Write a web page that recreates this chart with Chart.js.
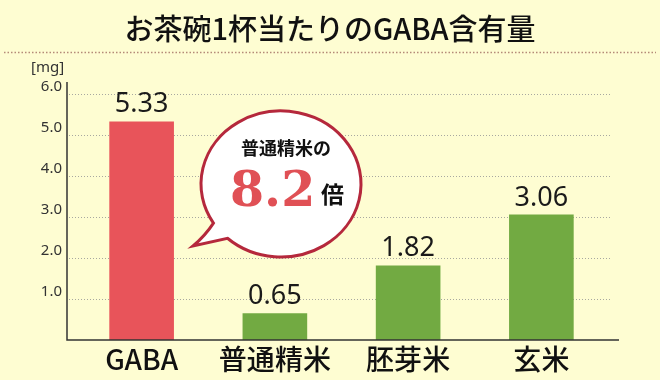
<!DOCTYPE html>
<html>
<head>
<meta charset="utf-8">
<script src="https://cdn.jsdelivr.net/npm/chart.js@4/dist/chart.umd.min.js"></script>
<style>
  html, body { margin: 0; padding: 0; background: #fefdd2; }
  #wrap { width: 660px; height: 380px; }
</style>
</head>
<body>
<div id="wrap"><canvas id="c" width="660" height="380"></canvas></div>
<script>
// ---- data ----
const categories = ['GABA', '普通精米', '胚芽米', '玄米'];
const gabaValues = [5.33, 0.65, 1.82, 3.06];
const valueLabels = ['5.33', '0.65', '1.82', '3.06'];
const barColors = ['#e8545a', '#72aa42', '#72aa42', '#72aa42'];
const yTickValues = [1, 2, 3, 4, 5, 6];
const yTickLabels = ['1.0', '2.0', '3.0', '4.0', '5.0', '6.0'];
const titleText = 'お茶碗1杯当たりのGABA含有量';
const unitText = '[mg]';
const bubbleLine1 = '普通精米の';
const bubbleRatio = '8.2';
const bubbleSuffix = '倍';

const BG = '#fefdd2';
const CJK = '"Noto Sans CJK JP", "Noto Sans", sans-serif';

const decor = {
  id: 'decor',
  beforeDraw(chart) {
    const ctx = chart.ctx;
    ctx.save();
    ctx.fillStyle = BG;
    ctx.fillRect(0, 0, chart.width, chart.height);
    // title
    ctx.fillStyle = '#111';
    ctx.font = '500 29px ' + CJK;
    ctx.textAlign = 'center';
    ctx.textBaseline = 'middle';
    ctx.fillText(titleText, 330, 29);
    // dotted rule
    ctx.strokeStyle = '#b48a78';
    ctx.lineWidth = 1.5;
    ctx.setLineDash([1.5, 2]);
    ctx.beginPath();
    ctx.moveTo(4, 52.5);
    ctx.lineTo(656, 52.5);
    ctx.stroke();
    ctx.setLineDash([]);
    // unit
    ctx.fillStyle = '#333';
    ctx.font = '15px "Noto Sans", sans-serif';
    ctx.textAlign = 'left';
    ctx.textBaseline = 'middle';
    ctx.fillText(unitText, 31, 68);
    ctx.restore();
  },
  beforeDatasetsDraw(chart) {
    const ctx = chart.ctx;
    const ys = chart.scales.y;
    ctx.save();
    ctx.strokeStyle = '#a8a8a0';
    ctx.lineWidth = 1;
    ctx.setLineDash([1, 2]);
    yTickValues.forEach(v => {
      const y = Math.round(ys.getPixelForValue(v)) + 0.5;
      ctx.beginPath();
      ctx.moveTo(69, y);
      ctx.lineTo(611, y);
      ctx.stroke();
    });
    ctx.restore();
  },
  afterDatasetsDraw(chart) {
    const ctx = chart.ctx;
    const meta = chart.getDatasetMeta(0);
    const ys = chart.scales.y;
    const base = ys.getPixelForValue(0);
    ctx.save();
    // axes
    ctx.strokeStyle = '#333';
    ctx.lineWidth = 1.5;
    ctx.beginPath();
    ctx.moveTo(67, 82);
    ctx.lineTo(67, base);
    ctx.lineTo(619, base);
    ctx.stroke();
    // value labels
    ctx.fillStyle = '#1a1a1a';
    ctx.font = '27px "Noto Sans", sans-serif';
    ctx.textAlign = 'center';
    ctx.textBaseline = 'alphabetic';
    meta.data.forEach((bar, i) => {
      ctx.fillText(valueLabels[i], bar.x, bar.y - 9);
    });
    // speech bubble
    const cx = 281, cy = 184, rx = 80, ry = 73;
    const a1 = 147.6 * Math.PI / 180, a2 = 132 * Math.PI / 180;
    ctx.beginPath();
    ctx.ellipse(cx, cy, rx, ry, 0, a1, a2, false);
    ctx.lineTo(193, 246);
    ctx.quadraticCurveTo(205, 236, cx + rx * Math.cos(a1), cy + ry * Math.sin(a1));
    ctx.closePath();
    ctx.fillStyle = '#ffffff';
    ctx.fill();
    ctx.strokeStyle = '#b5283c';
    ctx.lineWidth = 3;
    ctx.lineJoin = 'miter';
    ctx.stroke();
    // bubble text
    ctx.fillStyle = '#111';
    ctx.font = 'bold 18px ' + CJK;
    ctx.textAlign = 'center';
    ctx.textBaseline = 'middle';
    ctx.fillText(bubbleLine1, 286, 148);
    ctx.fillStyle = '#e05055';
    ctx.font = 'bold 49px "DejaVu Serif", serif';
    ctx.textAlign = 'left';
    ctx.textBaseline = 'alphabetic';
    ctx.fillText(bubbleRatio, 230, 206);
    ctx.fillStyle = '#111';
    ctx.font = 'bold 23px ' + CJK;
    ctx.textBaseline = 'middle';
    ctx.fillText(bubbleSuffix, 321, 194);
    ctx.restore();
  }
};

new Chart(document.getElementById('c'), {
  type: 'bar',
  data: {
    labels: categories,
    datasets: [{
      data: gabaValues,
      backgroundColor: barColors,
      borderWidth: 0,
      barPercentage: 0.485,
      categoryPercentage: 1.0
    }]
  },
  options: {
    responsive: false,
    animation: false,
    layout: { padding: { top: 94, right: 52, bottom: 0, left: 0 } },
    plugins: { legend: { display: false }, tooltip: { enabled: false }, title: { display: false } },
    scales: {
      x: {
        grid: { display: false, drawTicks: false },
        border: { display: false },
        ticks: {
          color: '#111',
          padding: 3,
          font: { family: CJK, size: 28, weight: '500' }
        },
        afterFit: s => { s.height = 40; }
      },
      y: {
        min: 0, max: 6,
        afterBuildTicks: s => { s.ticks = yTickValues.map(v => ({ value: v })); },
        grid: { display: false, drawTicks: false },
        border: { display: false },
        ticks: {
          color: '#333',
          padding: 13,
          labelOffset: -7,
          font: { family: '"Noto Sans", sans-serif', size: 15 },
          callback: (v) => yTickLabels[yTickValues.indexOf(v)] || ''
        },
        afterFit: s => { s.width = 75; }
      }
    }
  },
  plugins: [decor]
});
</script>
</body>
</html>
